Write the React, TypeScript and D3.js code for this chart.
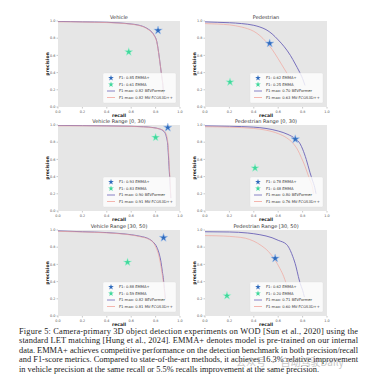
import * as d3 from 'd3';

type Pt = [number, number];

// Panel titles and legend numbers
const titles = [
  'Vehicle',
  'Pedestrian',
  'Vehicle Range [0, 30)',
  'Pedestrian Range [0, 30)',
  'Vehicle Range [30, 50)',
  'Pedestrian Range [30, 50)',
];
const emmaPlusF1 = ['0.85', '0.62', '0.93', '0.78', '0.88', '0.62'];
const emmaF1 = ['0.61', '0.25', '0.83', '0.48', '0.59', '0.20'];
const bevF1Max = ['0.82', '0.70', '0.90', '0.80', '0.82', '0.71'];
const fcosF1Max = ['0.82', '0.63', '0.91', '0.76', '0.81', '0.60'];

// Star markers: [recall, precision]
const emmaPlusPts: Pt[] = [[0.82, 0.89], [0.53, 0.74], [0.9, 0.97], [0.74, 0.835], [0.865, 0.91], [0.575, 0.67]];
const emmaPts: Pt[] = [[0.58, 0.64], [0.205, 0.29], [0.8, 0.855], [0.41, 0.5], [0.57, 0.625], [0.18, 0.235]];

// PR curves, [recall, precision]
const vehicleBev: Pt[] = [[0, 0.995], [0.1, 0.993], [0.2, 0.99], [0.3, 0.988], [0.4, 0.985], [0.5, 0.978], [0.6, 0.965], [0.65, 0.955], [0.7, 0.935], [0.74, 0.905], [0.77, 0.87], [0.79, 0.83], [0.81, 0.76], [0.82, 0.68], [0.83, 0.58], [0.84, 0.47], [0.85, 0.36], [0.86, 0.25], [0.865, 0.15]];
const vehicleFcos: Pt[] = [[0, 0.99], [0.1, 0.99], [0.2, 0.988], [0.3, 0.985], [0.4, 0.982], [0.5, 0.975], [0.6, 0.963], [0.65, 0.952], [0.7, 0.932], [0.74, 0.9], [0.77, 0.865], [0.79, 0.825], [0.81, 0.755], [0.82, 0.675], [0.83, 0.575], [0.84, 0.47], [0.85, 0.36], [0.86, 0.25], [0.865, 0.15]];
const pedBev: Pt[] = [[0, 0.99], [0.1, 0.985], [0.2, 0.98], [0.3, 0.97], [0.4, 0.95], [0.45, 0.93], [0.5, 0.9], [0.55, 0.85], [0.6, 0.78], [0.65, 0.7], [0.7, 0.6], [0.74, 0.5], [0.77, 0.42], [0.8, 0.33], [0.82, 0.25]];
const pedFcos: Pt[] = [[0, 0.97], [0.1, 0.965], [0.2, 0.955], [0.3, 0.93], [0.35, 0.91], [0.4, 0.88], [0.45, 0.83], [0.5, 0.76], [0.55, 0.67], [0.6, 0.56], [0.63, 0.49], [0.66, 0.42], [0.69, 0.35], [0.72, 0.28], [0.74, 0.22]];
const vehNearBev: Pt[] = [[0, 0.995], [0.2, 0.993], [0.4, 0.99], [0.6, 0.985], [0.7, 0.98], [0.78, 0.97], [0.83, 0.955], [0.86, 0.935], [0.88, 0.9], [0.89, 0.85], [0.9, 0.76], [0.905, 0.65], [0.91, 0.52], [0.915, 0.4], [0.92, 0.28], [0.925, 0.15]];
const vehNearFcos: Pt[] = [[0, 0.99], [0.2, 0.99], [0.4, 0.988], [0.6, 0.984], [0.7, 0.978], [0.78, 0.968], [0.83, 0.955], [0.865, 0.935], [0.885, 0.9], [0.895, 0.85], [0.903, 0.76], [0.908, 0.65], [0.912, 0.52], [0.917, 0.4], [0.921, 0.28], [0.925, 0.15]];
const pedNearBev: Pt[] = [[0, 0.99], [0.2, 0.985], [0.4, 0.975], [0.5, 0.96], [0.6, 0.93], [0.68, 0.89], [0.74, 0.84], [0.78, 0.78], [0.8, 0.72], [0.83, 0.6], [0.86, 0.45], [0.88, 0.36], [0.9, 0.27], [0.91, 0.2]];
const pedNearFcos: Pt[] = [[0, 0.98], [0.2, 0.975], [0.4, 0.96], [0.5, 0.94], [0.6, 0.9], [0.67, 0.85], [0.72, 0.79], [0.76, 0.71], [0.79, 0.62], [0.82, 0.52], [0.84, 0.44], [0.86, 0.36], [0.88, 0.28], [0.89, 0.2]];
const vehFarBev: Pt[] = [[0, 0.99], [0.2, 0.98], [0.4, 0.97], [0.5, 0.96], [0.6, 0.945], [0.68, 0.925], [0.74, 0.9], [0.78, 0.86], [0.81, 0.8], [0.83, 0.72], [0.845, 0.62], [0.855, 0.52], [0.865, 0.42], [0.872, 0.32], [0.88, 0.2]];
const vehFarFcos: Pt[] = [[0, 0.985], [0.2, 0.977], [0.4, 0.967], [0.5, 0.957], [0.6, 0.942], [0.68, 0.92], [0.74, 0.895], [0.78, 0.855], [0.805, 0.79], [0.825, 0.71], [0.84, 0.61], [0.852, 0.51], [0.862, 0.41], [0.87, 0.31], [0.878, 0.2]];
const pedFarBev: Pt[] = [[0, 0.98], [0.2, 0.977], [0.35, 0.965], [0.45, 0.945], [0.55, 0.91], [0.6, 0.88], [0.67, 0.83], [0.7, 0.76], [0.72, 0.69], [0.745, 0.58], [0.765, 0.46], [0.78, 0.38], [0.8, 0.3], [0.815, 0.22]];
const pedFarFcos: Pt[] = [[0, 0.935], [0.15, 0.93], [0.25, 0.92], [0.33, 0.905], [0.4, 0.87], [0.46, 0.82], [0.52, 0.75], [0.57, 0.66], [0.615, 0.55], [0.645, 0.46], [0.665, 0.38], [0.685, 0.3], [0.7, 0.23]];

const bevCurves = [vehicleBev, pedBev, vehNearBev, pedNearBev, vehFarBev, pedFarBev];
const fcosCurves = [vehicleFcos, pedFcos, vehNearFcos, pedNearFcos, vehFarFcos, pedFarFcos];

const ticks = [0, 0.2, 0.4, 0.6, 0.8, 1.0];

const captionLines = [
  'Figure 5: Camera-primary 3D object detection experiments on WOD [Sun et al., 2020] using the',
  'standard LET matching [Hung et al., 2024]. EMMA+ denotes model is pre-trained on our internal',
  'data. EMMA+ achieves competitive performance on the detection benchmark in both precision/recall',
  'and F1-score metrics. Compared to state-of-the-art methods, it achieves 16.3% relative improvement',
  'in vehicle precision at the same recall or 5.5% recalls improvement at the same precision.',
];

const W = 375;
const H = 390;
const COL_X = [58, 205];
const ROW_Y = [21, 125, 230];
const PW = 122;
const PH = 86;

const BLUE = '#2f6bbd';
const GREEN = '#3fd89b';
const BEV = '#6b62b8';
const FCOS = '#f2a39a';
const FONT = 'DejaVu Sans, sans-serif';

function Panel({ i }: { i: number }) {
  const x0 = COL_X[i % 2];
  const y0 = ROW_Y[Math.floor(i / 2)];
  const x = d3.scaleLinear().domain([0, 1]).range([x0, x0 + PW]);
  const y = d3.scaleLinear().domain([0, 1]).range([y0 + PH, y0]);
  const line = d3
    .line<Pt>()
    .x(d => x(d[0]))
    .y(d => y(d[1]))
    .curve(d3.curveMonotoneX);
  const star = d3.symbol(d3.symbolStar, 22)();
  const fmt = d3.format('.1f');
  const clipId = `clip-${i}`;

  // legend box in lower right
  const lx = x0 + PW - 77;
  const ly = y0 + PH - 34;
  const rowY = [5, 11.5, 18, 24.5].map(v => ly + v);
  const labels = [
    `F1: ${emmaPlusF1[i]} EMMA+`,
    `F1: ${emmaF1[i]} EMMA`,
    `F1-max: ${bevF1Max[i]} BEVFormer`,
    `F1-max: ${fcosF1Max[i]} MV-FCOS3D++`,
  ];

  return (
    <g fontFamily={FONT}>
      <clipPath id={clipId}>
        <rect x={x0} y={y0} width={PW} height={PH} />
      </clipPath>
      <rect x={x0} y={y0} width={PW} height={PH} fill="#e6e6e6" />
      {ticks.map(t => (
        <g key={`t${t}`}>
          <line x1={x(t)} x2={x(t)} y1={y0 + PH} y2={y0 + PH + 1.5} stroke="#777" strokeWidth={0.4} />
          <text x={x(t)} y={y0 + PH + 5.5} fontSize={3.4} fill="#555" textAnchor="middle">
            {fmt(t)}
          </text>
          <line x1={x0 - 1.5} x2={x0} y1={y(t)} y2={y(t)} stroke="#777" strokeWidth={0.4} />
          <text x={x0 - 2.5} y={y(t) + 1.2} fontSize={3.4} fill="#555" textAnchor="end">
            {fmt(t)}
          </text>
        </g>
      ))}
      <text x={x0 + PW / 2} y={y0 - 2.3} fontSize={5} fill="#333" textAnchor="middle">
        {titles[i]}
      </text>
      <text x={x0 + PW / 2} y={y0 + PH + 9.8} fontSize={4.5} fontWeight={600} fill="#222" textAnchor="middle">
        recall
      </text>
      <text
        transform={`translate(${x0 - 9},${y0 + PH / 2}) rotate(-90)`}
        fontSize={4.6}
        fontWeight={600}
        fill="#222"
        textAnchor="middle"
      >
        precision
      </text>
      <g clipPath={`url(#${clipId})`} fill="none">
        <path d={line(bevCurves[i]) ?? ''} stroke={BEV} strokeWidth={0.9} />
        <path d={line(fcosCurves[i]) ?? ''} stroke={FCOS} strokeWidth={0.9} opacity={0.75} />
      </g>
      <path
        d={star ?? ''}
        transform={`translate(${x(emmaPlusPts[i][0])},${y(emmaPlusPts[i][1])})`}
        fill={BLUE}
        stroke="#a9c6ee"
        strokeWidth={0.6}
      />
      <path
        d={star ?? ''}
        transform={`translate(${x(emmaPts[i][0])},${y(emmaPts[i][1])})`}
        fill={GREEN}
        stroke="#bff2dc"
        strokeWidth={0.5}
      />
      <rect x={lx} y={ly} width={73} height={30} rx={1.5} fill="#fff" fillOpacity={0.8} stroke="#ddd" strokeWidth={0.3} />
      <path d={d3.symbol(d3.symbolStar, 10)() ?? ''} transform={`translate(${lx + 8},${rowY[0]})`} fill={BLUE} />
      <path d={d3.symbol(d3.symbolStar, 10)() ?? ''} transform={`translate(${lx + 8},${rowY[1]})`} fill={GREEN} />
      <line x1={lx + 4} x2={lx + 12} y1={rowY[2]} y2={rowY[2]} stroke={BEV} strokeWidth={0.8} />
      <line x1={lx + 4} x2={lx + 12} y1={rowY[3]} y2={rowY[3]} stroke={FCOS} strokeWidth={0.8} />
      {labels.map((l, k) => (
        <text key={l} x={lx + 16} y={rowY[k] + 1.3} fontSize={3.7} fill="#333">
          {l}
        </text>
      ))}
    </g>
  );
}

export default function App() {
  return (
    <svg
      width={W}
      height={H}
      viewBox={`0 0 ${W} ${H}`}
      style={{ position: 'absolute', left: 0, top: 0, background: '#fff' }}
    >
      <rect width={W} height={H} fill="#fff" />
      {titles.map((_, i) => (
        <Panel key={i} i={i} />
      ))}
      <g fontFamily="Liberation Serif, serif" fontSize={8.4} fill="#222">
        {captionLines.map((l, k) => (
          <text
            key={k}
            x={19}
            y={333.5 + k * 9.5}
            textLength={k < 4 ? 339 : undefined}
            lengthAdjust="spacing"
          >
            {l}
          </text>
        ))}
      </g>
      <text
        x={236}
        y={366}
        fontFamily="Noto Sans CJK SC, sans-serif"
        fontSize={10}
        fill="#999"
        opacity={0.55}
      >
        公众号 · 自动驾驶Daily
      </text>
    </svg>
  );
}
